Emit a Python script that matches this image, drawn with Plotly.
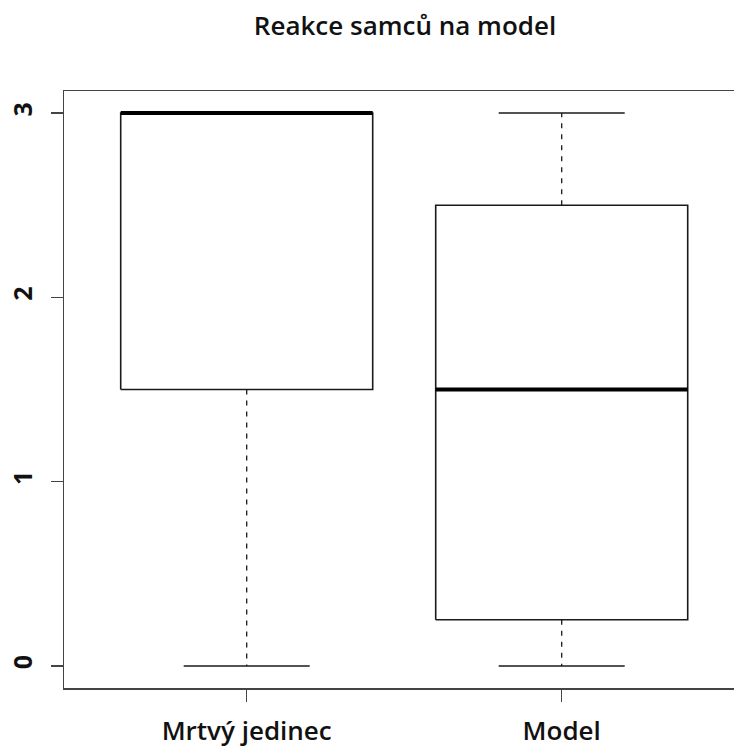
import plotly.graph_objects as go

# ---- data ----
categories = ["Mrtvý jedinec", "Model"]
lower_whisker = [0, 0]
q1 = [1.5, 0.25]
median = [3, 1.5]
q3 = [3, 2.5]
upper_whisker = [3, 3]
y_ticks = [0, 1, 2, 3]
title_text = "Reakce samců na model"

# ---- style constants ----
BOX_HALF = 0.4
CAP_HALF = 0.2
LINE_COL = "#1a1a1a"
FRAME_COL = "#444444"
FONT = "Open Sans, Liberation Sans, sans-serif"

fig = go.Figure()
positions = list(range(1, len(categories) + 1))

for pos, lo, a, m, b, hi in zip(positions, lower_whisker, q1, median, q3, upper_whisker):
    # whiskers (dashed)
    fig.add_trace(go.Scatter(
        x=[pos, pos, None, pos, pos], y=[b, hi, None, a, lo],
        mode="lines", line=dict(color=LINE_COL, width=1.3, dash="5px,6px"),
        hoverinfo="skip", showlegend=False))
    # staples
    fig.add_trace(go.Scatter(
        x=[pos - CAP_HALF, pos + CAP_HALF, None, pos - CAP_HALF, pos + CAP_HALF],
        y=[hi, hi, None, lo, lo],
        mode="lines", line=dict(color=LINE_COL, width=1.5),
        hoverinfo="skip", showlegend=False))
    # box
    fig.add_trace(go.Scatter(
        x=[pos - BOX_HALF, pos + BOX_HALF, pos + BOX_HALF, pos - BOX_HALF, pos - BOX_HALF],
        y=[a, a, b, b, a],
        mode="lines", line=dict(color=LINE_COL, width=1.6),
        hoverinfo="skip", showlegend=False))
    # median
    fig.add_trace(go.Scatter(
        x=[pos - BOX_HALF, pos + BOX_HALF], y=[m, m],
        mode="lines", line=dict(color="#000000", width=4),
        hoverinfo="skip", showlegend=False))

W, H = 734, 747
fig.update_layout(
    width=W, height=H,
    margin=dict(l=64, r=0, t=91, b=H - 688),
    paper_bgcolor="white", plot_bgcolor="white",
    showlegend=False,
    title=dict(text=title_text, x=(405 - 64) / 670, xref="paper", xanchor="center",
               y=1 - 26 / H, yanchor="middle",
               font=dict(family=FONT, size=26, color="#111111", weight=600)),
)
fig.update_xaxes(
    range=[0.42, 0.42 + 670 / 315], tickmode="array", tickvals=positions, ticktext=categories,
    showgrid=False, zeroline=False, showline=True, linecolor=FRAME_COL, linewidth=1.5,
    mirror=True, ticks="outside", ticklen=12, tickcolor=FRAME_COL, tickwidth=1.5,
    tickfont=dict(family=FONT, size=26, color="#111111", weight=600), ticklabelstandoff=7,
)
fig.update_yaxes(
    range=[-0.12, 3.12], tickmode="array", tickvals=y_ticks, ticktext=[str(t) for t in y_ticks],
    showgrid=False, zeroline=False, showline=True, linecolor=FRAME_COL, linewidth=1.5,
    mirror=False, ticks="outside", ticklen=12, tickcolor=FRAME_COL, tickwidth=1.5,
    tickangle=-90, tickfont=dict(family=FONT, size=25, color="#111111", weight="bold"),
    ticklabelstandoff=9,
)

fig.write_html(
    "out.html",
    config={"displayModeBar": False, "staticPlot": True},
    post_script="document.body.style.margin='0';document.body.style.overflow='hidden';",
)
